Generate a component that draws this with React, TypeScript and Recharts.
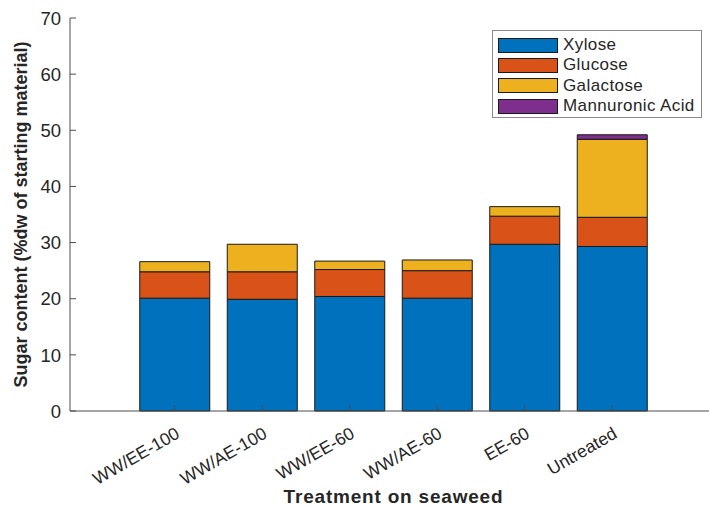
import { BarChart, Bar, XAxis, YAxis, Legend, Label } from "recharts";

const treatments = ["WW/EE-100", "WW/AE-100", "WW/EE-60", "WW/AE-60", "EE-60", "Untreated"];
const xylose = [20.1, 19.9, 20.4, 20.1, 29.7, 29.3];
const glucose = [4.7, 4.9, 4.8, 4.9, 5.0, 5.2];
const galactose = [1.8, 4.9, 1.5, 1.9, 1.7, 13.9];
const mannuronicAcid = [0, 0, 0, 0, 0, 0.8];
const yTicks = [0, 10, 20, 30, 40, 50, 60, 70];
const sugarNames = ["Xylose", "Glucose", "Galactose", "Mannuronic Acid"];

const data = treatments.map((name, i) => ({
  name,
  xylose: xylose[i],
  glucose: glucose[i],
  galactose: galactose[i],
  mannuronic: mannuronicAcid[i],
}));

const FONT = '"Liberation Sans", Arial, Helvetica, sans-serif';
const AXIS = "#4d4d4d";
const TEXT = "#262626";

// inward tick mark + rotated label anchored at its right end
function SlantTick(props: any) {
  const { x, y, payload } = props;
  const ax = x + 6;
  const ay = y + 26;
  return (
    <g>
      <line x1={x} x2={x} y1={y} y2={y - 6} stroke={AXIS} />
      <text
        x={ax}
        y={ay}
        transform={`rotate(-30, ${ax}, ${ay})`}
        textAnchor="end"
        fontSize={17.5}
        fontFamily={FONT}
        fill={TEXT}
      >
        {payload.value}
      </text>
    </g>
  );
}

function TopTick(props: any) {
  const { x, y } = props;
  return <line x1={x} x2={x} y1={y} y2={y + 6} stroke={AXIS} />;
}

function LeftTick(props: any) {
  const { x, y, payload } = props;
  return (
    <g>
      <line x1={x} x2={x + 6} y1={y} y2={y} stroke={AXIS} />
      <text x={x - 9} y={y} dy="0.36em" textAnchor="end" fontSize={18.5} fontFamily={FONT} fill={TEXT}>
        {payload.value}
      </text>
    </g>
  );
}

function LegendBox(props: any) {
  const items = [...(props.payload || [])].sort(
    (a: any, b: any) => sugarNames.indexOf(a.value) - sugarNames.indexOf(b.value)
  );
  return (
    <div
      style={{
        border: "1px solid #8a8a8a",
        background: "#fff",
        padding: "4px 5px 1px 5px",
        width: 210,
        boxSizing: "border-box",
        fontFamily: FONT,
        fontSize: 17,
        letterSpacing: 0.4,
        color: TEXT,
      }}
    >
      {items.map((e: any) => (
        <div key={e.value} style={{ display: "flex", alignItems: "center", height: 20.3 }}>
          <span
            style={{
              display: "inline-block",
              width: 60,
              height: 15,
              boxSizing: "border-box",
              background: e.color,
              border: "1px solid #1a1a1a",
              marginRight: 5,
            }}
          />
          <span style={{ lineHeight: "20px" }}>{e.value}</span>
        </div>
      ))}
    </div>
  );
}

export default function App() {
  return (
    <div style={{ position: "absolute", left: 0, top: 0, width: 709, height: 506, overflow: "hidden", background: "#fff" }}>
      <BarChart
        width={717}
        height={506}
        data={data}
        margin={{ top: 18, right: 0, bottom: 0, left: 0 }}
        barCategoryGap="10%"
      >
        <Bar dataKey="xylose" name="Xylose" stackId="s" fill="#0072BD" stroke="#1a1a1a" strokeWidth={1} isAnimationActive={false} />
        <Bar dataKey="glucose" name="Glucose" stackId="s" fill="#D95319" stroke="#1a1a1a" strokeWidth={1} isAnimationActive={false} />
        <Bar dataKey="galactose" name="Galactose" stackId="s" fill="#EDB120" stroke="#1a1a1a" strokeWidth={1} isAnimationActive={false} />
        <Bar dataKey="mannuronic" name="Mannuronic Acid" stackId="s" fill="#7E2F8E" stroke="#1a1a1a" strokeWidth={1} isAnimationActive={false} />
        <XAxis
          xAxisId="top"
          orientation="top"
          dataKey="name"
          height={0}
          padding={{ left: 61, right: 61 }}
          tick={<TopTick />}
          tickSize={0}
          tickMargin={0}
          tickLine={false}
          axisLine={{ stroke: AXIS }}
          interval={0}
        />
        <XAxis
          dataKey="name"
          height={95}
          padding={{ left: 61, right: 61 }}
          tickSize={0}
          tickMargin={0}
          tickLine={false}
          axisLine={{ stroke: AXIS }}
          tick={<SlantTick />}
          interval={0}
        >
          <Label
            value="Treatment on seaweed"
            position="insideBottom"
            offset={3}
            style={{ fontFamily: FONT, fontSize: 19, fontWeight: "bold", letterSpacing: 0.8, fill: TEXT }}
          />
        </XAxis>
        <YAxis
          width={70}
          domain={[0, 70]}
          ticks={yTicks}
          tickSize={0}
          tickMargin={0}
          tickLine={false}
          axisLine={{ stroke: AXIS }}
          tick={<LeftTick />}
        >
          <Label
            content={(p: any) => {
              const vb = p.viewBox;
              const cy = vb.y + vb.height / 2;
              return (
                <text
                  x={27}
                  y={cy}
                  transform={`rotate(-90, 27, ${cy})`}
                  textAnchor="middle"
                  fontFamily={FONT}
                  fontSize={18}
                  fontWeight="bold"
                  fill={TEXT}
                >
                  Sugar content (%dw of starting material)
                </text>
              );
            }}
          />
        </YAxis>
        <Legend
          layout="vertical"
          verticalAlign="middle"
          align="center"
          content={<LegendBox />}
          wrapperStyle={{ left: 492, top: 30, width: 210 }}
        />
      </BarChart>
    </div>
  );
}
